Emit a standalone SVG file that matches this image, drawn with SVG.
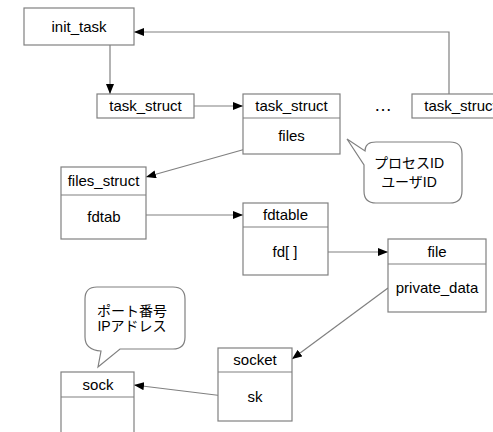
<svg xmlns="http://www.w3.org/2000/svg" width="493" height="432" viewBox="0 0 493 432">
<style>
.box{fill:#fff;stroke:#808080;stroke-width:1.2}
.div{stroke:#808080;stroke-width:1.2}
.con{fill:none;stroke:#808080;stroke-width:1.2}
.t{font-family:"Liberation Sans",Arial,sans-serif;font-size:15px;fill:#000;text-anchor:middle}
.j{font-family:"Liberation Sans","Noto Sans CJK JP",sans-serif;font-size:14px;fill:#000;text-anchor:middle}
.bub{fill:#fff;stroke:#808080;stroke-width:1.2}
</style>
<defs>
<marker id="ah" viewBox="0 0 10 8" refX="10" refY="4" markerWidth="10" markerHeight="8" markerUnits="userSpaceOnUse" orient="auto">
<path d="M0,0 L10,4 L0,8 Z" fill="#000"/>
</marker>
</defs>
<rect width="493" height="432" fill="#fff"/>
<g id="connectors">
<path class="con" d="M110,45 V94" marker-end="url(#ah)"/>
<path class="con" d="M194,106 H243" marker-end="url(#ah)"/>
<path class="con" d="M449,94 V32 H134" marker-end="url(#ah)"/>
<path class="con" d="M267,143 L146,177" marker-end="url(#ah)"/>
<path class="con" d="M122,215 H243" marker-end="url(#ah)"/>
<path class="con" d="M316,252 H388" marker-end="url(#ah)"/>
<path class="con" d="M388,288 L292,359" marker-end="url(#ah)"/>
<path class="con" d="M232,397 L134,385" marker-end="url(#ah)"/>
</g>
<g id="init_task">
<rect class="box" x="24" y="8" width="110" height="37"/>
<text class="t" x="79" y="32">init_task</text>
</g>
<g id="task_struct1">
<rect class="box" x="97" y="94" width="97" height="24"/>
<text class="t" x="145.5" y="111">task_struct</text>
</g>
<g id="task_struct2">
<rect class="box" x="243" y="94" width="97" height="60"/>
<line class="div" x1="243" y1="118" x2="340" y2="118"/>
<text class="t" x="291.5" y="111">task_struct</text>
<text class="t" x="291.5" y="141">files</text>
</g>
<g id="dots">
<text class="t" x="383" y="111" style="font-size:18px">…</text>
</g>
<g id="task_struct3">
<rect class="box" x="412" y="94" width="97" height="24"/>
<text class="t" x="460.5" y="111">task_struct</text>
</g>
<g id="callout_process">
<path class="bub" d="M347,139 L365,151 Q365,142 376,142 H450 Q462,142 462,154 V191 Q462,203 450,203 H376 Q364,203 364,191 V165 Z"/>
<text class="j" x="409" y="168">プロセスID</text>
<text class="j" x="409" y="187">ユーザID</text>
</g>
<g id="files_struct">
<rect class="box" x="61" y="167" width="85" height="72"/>
<line class="div" x1="61" y1="195" x2="146" y2="195"/>
<text class="t" x="103.5" y="186">files_struct</text>
<text class="t" x="104" y="222">fdtab</text>
</g>
<g id="fdtable">
<rect class="box" x="243" y="203" width="85" height="72"/>
<line class="div" x1="243" y1="227" x2="328" y2="227"/>
<text class="t" x="285.5" y="220">fdtable</text>
<text class="t" x="285" y="257">fd[ ]</text>
</g>
<g id="file">
<rect class="box" x="388" y="239" width="98" height="73"/>
<line class="div" x1="388" y1="264" x2="486" y2="264"/>
<text class="t" x="437" y="257">file</text>
<text class="t" x="437" y="293">private_data</text>
</g>
<g id="callout_port">
<path class="bub" d="M98,367 L101,351 Q85,350 85,337 V299 Q85,287 97,287 H173 Q185,287 185,299 V337 Q185,349 173,349 H120 Z"/>
<text class="j" x="132" y="316">ポート番号</text>
<text class="j" x="132" y="331">IPアドレス</text>
</g>
<g id="socket">
<rect class="box" x="218" y="348" width="74" height="73"/>
<line class="div" x1="218" y1="372" x2="292" y2="372"/>
<text class="t" x="255" y="365">socket</text>
<text class="t" x="255" y="402">sk</text>
</g>
<g id="sock">
<rect class="box" x="61" y="372" width="73" height="80"/>
<line class="div" x1="61" y1="397" x2="134" y2="397"/>
<text class="t" x="98" y="390">sock</text>
</g>
</svg>
